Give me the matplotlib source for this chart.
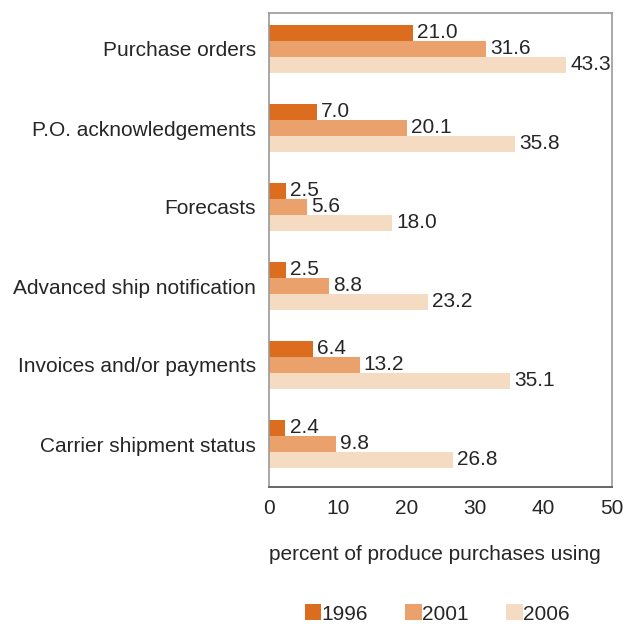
import matplotlib
matplotlib.use("Agg")
import matplotlib.pyplot as plt
import numpy as np

plt.rcParams["font.family"] = ["Liberation Sans", "DejaVu Sans"]

categories = [
    "Purchase orders",
    "P.O. acknowledgements",
    "Forecasts",
    "Advanced ship notification",
    "Invoices and/or payments",
    "Carrier shipment status",
]
years = ["1996", "2001", "2006"]
values_1996 = [21.0, 7.0, 2.5, 2.5, 6.4, 2.4]
values_2001 = [31.6, 20.1, 5.6, 8.8, 13.2, 9.8]
values_2006 = [43.3, 35.8, 18.0, 23.2, 35.1, 26.8]
x_ticks = [0, 10, 20, 30, 40, 50]
x_label = "percent of produce purchases using"

colors = ["#DC6D1F", "#EAA16B", "#F5DBC2"]
text_color = "#262626"

fig = plt.figure(figsize=(6.23, 6.24), dpi=100)
ax = fig.add_axes([269 / 623, 1 - 487 / 624, 343 / 623, 474 / 624])

series = [values_1996, values_2001, values_2006]
pos = np.arange(len(categories))
bar_h = 16 / 79
for i, (vals, col, yr) in enumerate(zip(series, colors, years)):
    offs = pos + (i - 1) * bar_h
    ax.barh(offs, vals, height=bar_h, color=col, label=yr, linewidth=0)
    for y, v in zip(offs, vals):
        ax.annotate(f"{v:.1f}", (v, y), xytext=(3, 0.5), textcoords="offset points",
                    ha="left", va="center", fontsize=15, color=text_color)

ax.set_xlim(0, 50)
ax.set_ylim(5 + 43 / 79, -36 / 79)
ax.set_yticks(pos)
ax.set_yticklabels(categories, fontsize=15, color=text_color)
ax.set_xticks(x_ticks)
ax.set_xticklabels([str(t) for t in x_ticks], fontsize=15, color=text_color)
ax.tick_params(axis="y", length=0, pad=9.5)
ax.tick_params(axis="x", length=0, pad=9)

for side in ["left", "top", "right"]:
    ax.spines[side].set_color("#9A9A9A")
    ax.spines[side].set_linewidth(1.2)
ax.spines["bottom"].set_color("#666666")
ax.spines["bottom"].set_linewidth(1.4)

fig.text(435 / 623, 1 - 555 / 624, x_label, ha="center", va="center",
         fontsize=15, color=text_color)

handles, labels = ax.get_legend_handles_labels()
fig.legend(handles, labels, ncol=3, loc="center", bbox_to_anchor=(437 / 623, 1 - 614 / 624),
           frameon=False, fontsize=15, handlelength=0.8, handleheight=0.8,
           handletextpad=0.0, columnspacing=1.8, labelcolor=text_color, borderpad=0)

fig.savefig("out.png", dpi=100)
